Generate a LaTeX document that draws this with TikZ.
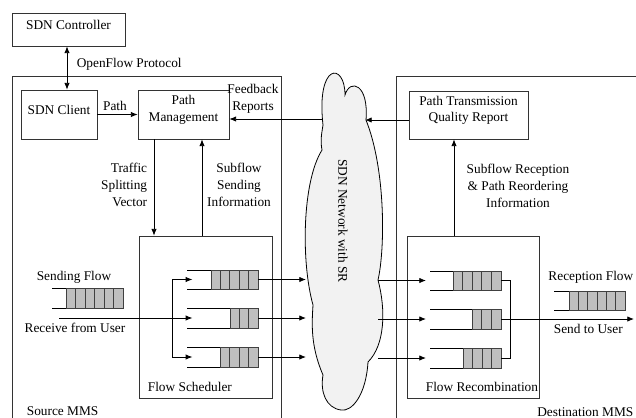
\documentclass[tikz,border=0pt]{standalone}
\usepackage{fontspec}
\setmainfont{Liberation Serif}
\usetikzlibrary{arrows.meta, positioning, fit}

\tikzset{
  blk/.style={draw=black!80, fill=white, inner sep=0pt, align=center},
  flow/.style={-{Latex[length=5pt, width=4pt]}},
  both/.style={{Latex[length=5pt, width=4pt]}-{Latex[length=5pt, width=4pt]}},
  cell/.style={draw=black!75, fill=gray!50},
}
% buffer queue: name, x open end, x first cell, x right end, y top, y bottom, cells
\newcommand{\qbuf}[7]{%
  \draw (#2,#5) -- (#4,#5) (#2,#6) -- (#4,#6);
  \pgfmathsetmacro{\qcw}{(#4-#3)/#7}
  \foreach \k in {1,...,#7}
    \draw[cell] ({#3+(\k-1)*\qcw},#5) rectangle ({#3+\k*\qcw},#6);
  \coordinate (#1-in) at (#2,{(#5+#6)/2});
  \coordinate (#1-out) at (#4,{(#5+#6)/2});
}

\begin{document}
\begin{tikzpicture}[x=0.75pt, y=-0.75pt, line width=0.6pt,
    every node/.style={font=\fontsize{10}{12.5}\selectfont}]
  \useasboundingbox (0,0) rectangle (636,418);
  % --- MMS frames --------------------------------------------------
  \draw[black!80] (12,418) -- (12,76) -- (281,76) -- (281,418);
  \draw[black!80] (636,76) -- (396,76) -- (396,418);
  \node[anchor=west] (srcmms) at (22,411) {Source MMS};
  \node[anchor=east, inner sep=1pt] (dstmms) at (635,412) {Destination MMS};
  % --- SDN cloud ---------------------------------------------------
  \draw[fill=black!5] (323,125) .. controls (316,62) and (345,62) .. (345,95)
    .. controls (350,78) and (369,84) .. (366,120)
    .. controls (386,170) and (385,250) .. (378,280)
    .. controls (386,310) and (385,345) .. (368,362)
    .. controls (366,395) and (352,412) .. (341,410)
    .. controls (326,408) and (320,392) .. (323,375)
    .. controls (310,345) and (312,322) .. (313,305)
    .. controls (301,262) and (302,182) .. (322,150)
    .. controls (320,140) and (322,132) .. (323,125) -- cycle;
  \node[rotate=-90] (cloud) at (343,221) {SDN Network with SR};
  \coordinate (cloudL) at (306,0);
  \coordinate (cloudR) at (378,0);
  % --- control blocks ----------------------------------------------
  \node[blk, fit={(12,13) (125,46)}] (ctrl) {SDN Controller};
  \node[blk, fit={(21,90) (97,139)}] (client) {SDN Client};
  \node[blk, fit={(138,90) (229,139)}] (pathmgmt) {Path\\Management};
  \node[blk, fit={(409,91) (528,139)}] (ptqr) {Path Transmission\\Quality Report};
  \coordinate (ofp) at (67,0);
  \draw[both] (ofp |- ctrl.south) -- (ofp |- client.north);
  \node[anchor=west] (ofplbl) at (72,64) {OpenFlow Protocol};
  \draw[flow] (client) -- (pathmgmt);
  \node (pathlbl) at (115,106) {Path};
  % --- feedback ----------------------------------------------------
  \coordinate (fbk) at (322,119);
  \draw[flow] (fbk) -- (fbk -| pathmgmt.east);
  \node[align=center] (fbklbl) at (253,99) {Feedback\\Reports};
  \coordinate (qrep) at (365,120);
  \draw[flow] (ptqr.west |- qrep) -- (qrep);
  % --- scheduler and recombination ---------------------------------
  \node[blk, fit={(139,236) (272,398)}] (sched) {};
  \node[anchor=west] (schedlbl) at (143,387) {Flow Scheduler};
  \node[blk, fit={(407,236) (539,398)}] (recomb) {};
  \node[anchor=west] (recomblbl) at (421,387) {Flow Recombination};
  \coordinate (tsv) at (154,0);
  \coordinate (ssi) at (202,0);
  \coordinate (sri) at (454,0);
  \draw[flow] (tsv |- pathmgmt.south) -- (tsv |- sched.north);
  \draw[flow] (ssi |- sched.north) -- (ssi |- pathmgmt.south);
  \draw[flow] (sri |- recomb.north) -- (sri |- ptqr.south);
  \node[anchor=east, align=right] (tsvlbl) at (152,185) {Traffic\\Splitting\\Vector};
  \node[align=center] (ssilbl) at (239,185) {Subflow\\Sending\\Information};
  \node[align=center] (srilbl) at (518,186) {Subflow Reception\\\& Path Reordering\\Information};
  % --- queues ------------------------------------------------------
  \qbuf{sendq}{52}{66}{123}{288}{308}{6}
  \qbuf{sq1}{187}{211}{258}{270}{289}{5}
  \qbuf{sq2}{187}{230}{258}{308}{328}{3}
  \qbuf{sq3}{187}{220}{258}{347}{367}{4}
  \qbuf{rq1}{430}{453}{501}{271}{290}{5}
  \qbuf{rq2}{430}{472}{501}{309}{329}{3}
  \qbuf{rq3}{430}{463}{501}{348}{368}{4}
  \qbuf{recvq}{554}{569}{625}{291}{310}{6}
  \node (sendlbl) at (74,277) {Sending Flow};
  \node (rcvlbl) at (75,328) {Receive from User};
  \node[anchor=east, inner sep=1pt] (recvlbl) at (635,277) {Reception Flow};
  \node[anchor=west] (sendusr) at (549,329) {Send to User};
  % --- splitting ---------------------------------------------------
  \coordinate (usrin) at (59,318);
  \coordinate (split) at (172,318);
  \draw[flow] (usrin) -- ([xshift=4pt]sq2-in);
  \draw[flow] (split) |- ([xshift=4pt]sq1-in);
  \draw[flow] (split) |- ([xshift=4pt]sq3-in);
  \foreach \q in {sq1, sq2, sq3}
    \draw[flow] (\q-out) -- (\q-out -| cloudL);
  \foreach \q in {rq1, rq2, rq3}
    \draw[flow] (\q-in -| cloudR) -- ([xshift=-3pt]\q-in);
  % --- merging -----------------------------------------------------
  \coordinate (merge) at (510,0);
  \coordinate (usrout) at (634,319);
  \draw (rq1-out) -- (rq1-out -| merge) -- (rq3-out -| merge) -- (rq3-out);
  \draw[flow] (rq2-out) -- (rq2-out -| usrout);
\end{tikzpicture}
\end{document}
